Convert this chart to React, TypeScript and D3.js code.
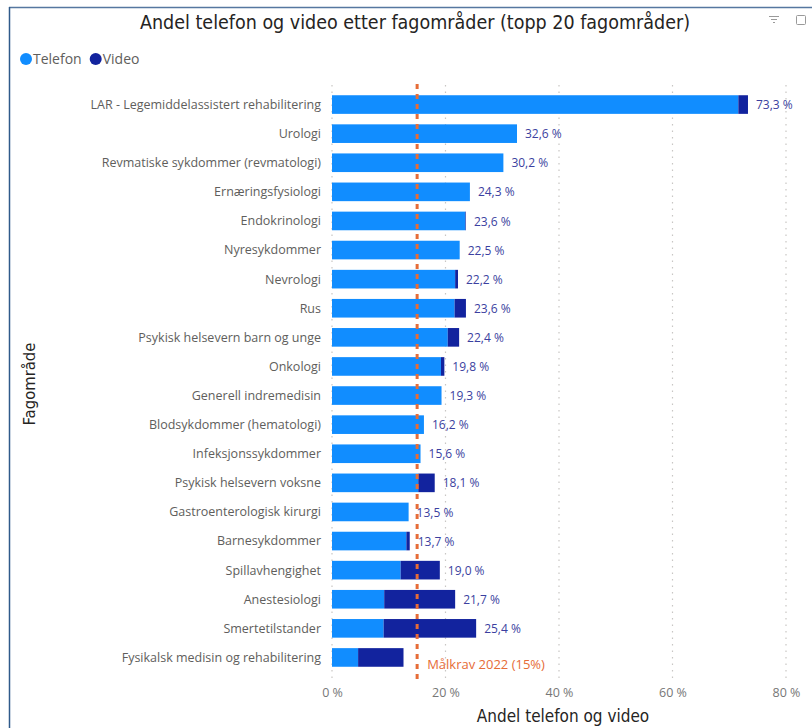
import React, { useEffect, useRef } from "react";
import * as d3 from "d3";

const categories = [
  "LAR - Legemiddelassistert rehabilitering",
  "Urologi",
  "Revmatiske sykdommer (revmatologi)",
  "Ernæringsfysiologi",
  "Endokrinologi",
  "Nyresykdommer",
  "Nevrologi",
  "Rus",
  "Psykisk helsevern barn og unge",
  "Onkologi",
  "Generell indremedisin",
  "Blodsykdommer (hematologi)",
  "Infeksjonssykdommer",
  "Psykisk helsevern voksne",
  "Gastroenterologisk kirurgi",
  "Barnesykdommer",
  "Spillavhengighet",
  "Anestesiologi",
  "Smertetilstander",
  "Fysikalsk medisin og rehabilitering",
];

const telefon = [71.6, 32.6, 30.2, 24.3, 23.5, 22.5, 21.7, 21.6, 20.4, 19.2, 19.3, 16.2, 15.6, 15.2, 13.5, 13.1, 12.1, 9.2, 9.1, 4.6];
const video = [1.7, 0.0, 0.0, 0.0, 0.1, 0.0, 0.5, 2.0, 2.0, 0.6, 0.0, 0.0, 0.0, 2.9, 0.0, 0.6, 6.9, 12.5, 16.3, 8.0];
const totalLabels = ["73,3 %", "32,6 %", "30,2 %", "24,3 %", "23,6 %", "22,5 %", "22,2 %", "23,6 %", "22,4 %", "19,8 %", "19,3 %", "16,2 %", "15,6 %", "18,1 %", "13,5 %", "13,7 %", "19,0 %", "21,7 %", "25,4 %", ""];
const xTicks = [0, 20, 40, 60, 80];
const target = 15;

const W = 812;
const H = 728;
const margin = { top: 90, left: 332 };
const TELEFON = "#118DFF";
const VIDEO = "#12239E";
const ORANGE = "#E66C37";
const uiFont = "'Open Sans', 'Noto Sans', sans-serif";
const titleFont = "'DejaVu Sans Condensed', 'Liberation Sans Narrow', sans-serif";

export default function App() {
  const svgRef = useRef<SVGSVGElement>(null);

  useEffect(() => {
    const svg = d3.select(svgRef.current);
    svg.selectAll("*").remove();

    const x = d3.scaleLinear().domain([0, 80]).range([0, 454]);
    const y = d3.scaleBand().domain(categories).range([0, 582]).paddingInner(0.36).paddingOuter(0.18);

    // frame
    svg.append("line").attr("x1", 9).attr("x2", W).attr("y1", 7.5).attr("y2", 7.5).attr("stroke", "#5677A0").attr("stroke-width", 1.5);
    svg.append("line").attr("x1", 9.5).attr("x2", 9.5).attr("y1", 7).attr("y2", H).attr("stroke", "#2F5A8A").attr("stroke-width", 1.5);

    // title
    svg.append("text")
      .attr("x", 415).attr("y", 29)
      .attr("text-anchor", "middle")
      .style("font-family", titleFont).style("font-size", "19.5px").attr("fill", "#252423")
      .text("Andel telefon og video etter fagområder (topp 20 fagområder)");

    // header icons
    const ic = svg.append("g").attr("stroke", "#9a9a9a").attr("fill", "none").attr("stroke-width", 1);
    ic.append("line").attr("x1", 769).attr("x2", 779).attr("y1", 16.5).attr("y2", 16.5);
    ic.append("line").attr("x1", 771).attr("x2", 777).attr("y1", 19.5).attr("y2", 19.5);
    ic.append("line").attr("x1", 773).attr("x2", 775).attr("y1", 22.5).attr("y2", 22.5);
    ic.append("rect").attr("x", 796.5).attr("y", 15.5).attr("width", 9).attr("height", 9).attr("rx", 1);

    // legend
    const legend = svg.append("g").attr("transform", "translate(0,59)");
    let lx = 26;
    [["Telefon", TELEFON], ["Video", VIDEO]].forEach(([name, c]) => {
      legend.append("circle").attr("cx", lx).attr("cy", 0).attr("r", 6).attr("fill", c);
      const t = legend.append("text").attr("x", lx + 7).attr("y", 5)
        .style("font-family", uiFont).style("font-size", "14px").attr("fill", "#605E5C")
        .text(name);
      const w = (t.node() as SVGTextElement).getComputedTextLength();
      lx = lx + 7 + w + 14;
    });

    const g = svg.append("g").attr("transform", `translate(${margin.left},${margin.top})`);

    // gridlines
    g.append("g")
      .selectAll("line")
      .data(xTicks)
      .join("line")
      .attr("x1", (d) => x(d)).attr("x2", (d) => x(d))
      .attr("y1", -5).attr("y2", 588)
      .attr("stroke", "#C8C6C4").attr("stroke-width", 1.2)
      .attr("stroke-dasharray", "1.5,5");

    // category labels
    g.append("g")
      .selectAll("text")
      .data(categories)
      .join("text")
      .attr("x", -11)
      .attr("y", (d) => (y(d) as number) + y.bandwidth() / 2)
      .attr("dy", "0.35em")
      .attr("text-anchor", "end")
      .style("font-family", uiFont).style("font-size", "12.5px").attr("fill", "#605E5C")
      .text((d) => d);

    // bars
    const rows = categories.map((c, i) => ({ c, t: telefon[i], v: video[i], lab: totalLabels[i] }));
    g.append("g").selectAll("rect").data(rows).join("rect")
      .attr("x", 0)
      .attr("y", (d) => y(d.c) as number)
      .attr("width", (d) => x(d.t))
      .attr("height", y.bandwidth())
      .attr("fill", TELEFON);
    g.append("g").selectAll("rect").data(rows.filter((d) => d.v > 0)).join("rect")
      .attr("x", (d) => x(d.t))
      .attr("y", (d) => y(d.c) as number)
      .attr("width", (d) => x(d.t + d.v) - x(d.t))
      .attr("height", y.bandwidth())
      .attr("fill", VIDEO);

    // total labels
    g.append("g").selectAll("text").data(rows).join("text")
      .attr("x", (d) => x(d.t + d.v) + 8)
      .attr("y", (d) => (y(d.c) as number) + y.bandwidth() / 2)
      .attr("dy", "0.38em")
      .style("font-family", uiFont).style("font-size", "12px").attr("fill", "#3B3FA0")
      .text((d) => d.lab);

    // target line
    g.append("line")
      .attr("x1", x(target)).attr("x2", x(target))
      .attr("y1", -6).attr("y2", 592)
      .attr("stroke", ORANGE).attr("stroke-width", 3)
      .attr("stroke-dasharray", "5,5");
    g.append("text")
      .attr("x", x(target) + 10).attr("y", 579)
      .style("font-family", uiFont).style("font-size", "13px").attr("fill", ORANGE)
      .text("Målkrav 2022 (15%)");

    // x axis ticks
    g.append("g")
      .attr("transform", `translate(0,${595})`)
      .call(d3.axisBottom(x).tickValues(xTicks).tickFormat((d) => `${d} %`).tickSize(0))
      .call((a) => a.select(".domain").remove())
      .selectAll("text")
      .style("font-family", uiFont).style("font-size", "12.5px").attr("fill", "#777");

    // axis titles
    svg.append("text")
      .attr("x", 563).attr("y", 722)
      .attr("text-anchor", "middle")
      .style("font-family", titleFont).style("font-size", "17px").attr("fill", "#252423")
      .text("Andel telefon og video");
    svg.append("text")
      .attr("transform", `translate(35,${384}) rotate(-90)`)
      .attr("text-anchor", "middle")
      .style("font-family", titleFont).style("font-size", "16.5px").attr("fill", "#252423")
      .text("Fagområde");
  }, []);

  return (
    <svg
      ref={svgRef}
      width={W}
      height={H}
      style={{ position: "absolute", left: 0, top: 0, background: "#fff" }}
    />
  );
}
